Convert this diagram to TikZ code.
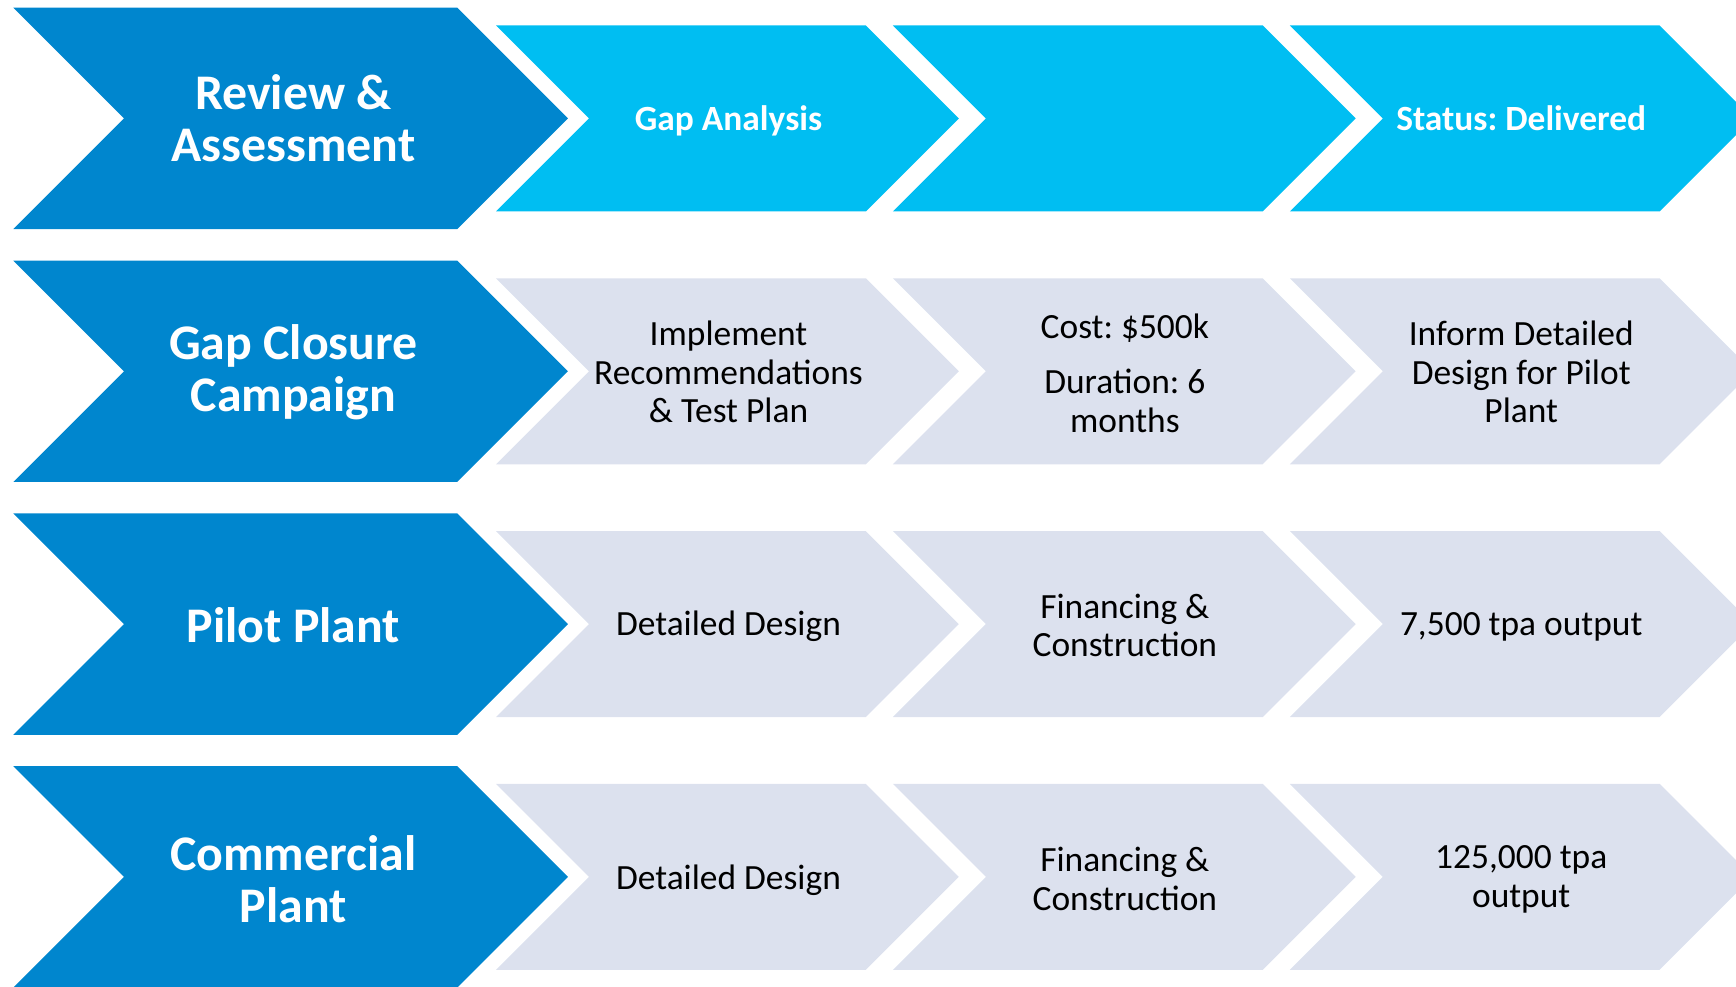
\documentclass[tikz,border=0pt]{standalone}
\usepackage{fontspec}
\setmainfont{Carlito}
\frenchspacing
\definecolor{bigblue}{RGB}{0,134,206}
\definecolor{skyblue}{RGB}{0,190,242}
\definecolor{palegrey}{RGB}{220,225,238}
\begin{document}
\begin{tikzpicture}[x=1pt,y=-1pt,
  head/.style={text=white,font=\fontsize{45}{47}\selectfont\bfseries,align=center},
  subhead/.style={text=white,font=\fontsize{32}{35}\selectfont\bfseries,align=center},
  body/.style={text=black,font=\fontsize{32}{35}\selectfont,align=center}]
\useasboundingbox (0,0) rectangle (1568,891);
\clip (0,0) rectangle (1568,891);
% big chevrons
\foreach \i in {0,1,2,3}{
  \pgfmathsetmacro{\t}{7+228.33*\i}
  \fill[bigblue] (12,\t) -- ++(401,0) -- ++(100,100) -- ++(-100,100) -- ++(-401,0) -- ++(100,-100) -- cycle;
  \foreach \j in {0,1,2}{
    \pgfmathsetmacro{\x}{448+358.5*\j}
    \pgfmathsetmacro{\tt}{\t+16}
    \ifnum\i=0 \def\c{skyblue}\else\def\c{palegrey}\fi
    \fill[\c] (\x,\tt) -- ++(334,0) -- ++(84,84) -- ++(-84,84) -- ++(-334,0) -- ++(84,-84) -- cycle;
  }
}
% row 1
\node[head] (h1) at (265,107) {Review \&\\Assessment};
\node[subhead] (a1) at (658,109) {Gap Analysis};
\node[subhead] (c1) at (1374,107) {Status: Delivered};
% row 2
\node[head] (h2) at (265,336) {Gap Closure\\Campaign};
\node[body] (a2) at (658,336) {Implement\\Recommendations\\\& Test Plan};
\node[body] (b2) at (1016,337) {Cost: \$500k\\[15pt]Duration: 6\\months};
\node[body] (c2) at (1374,336) {Inform Detailed\\Design for Pilot\\Plant};
% row 3
\node[head] (h3) at (265,565) {Pilot Plant};
\node[body] (a3) at (658,566) {Detailed Design};
\node[body] (b3) at (1016,565) {Financing \&\\Construction};
\node[body] (c3) at (1374,566) {7,500 tpa output};
% row 4
\node[head] (h4) at (265,794) {Commercial\\Plant};
\node[body] (a4) at (658,795) {Detailed Design};
\node[body] (b4) at (1016,794) {Financing \&\\Construction};
\node[body] (c4) at (1374,794) {125,000 tpa\\output};
\end{tikzpicture}
\end{document}
